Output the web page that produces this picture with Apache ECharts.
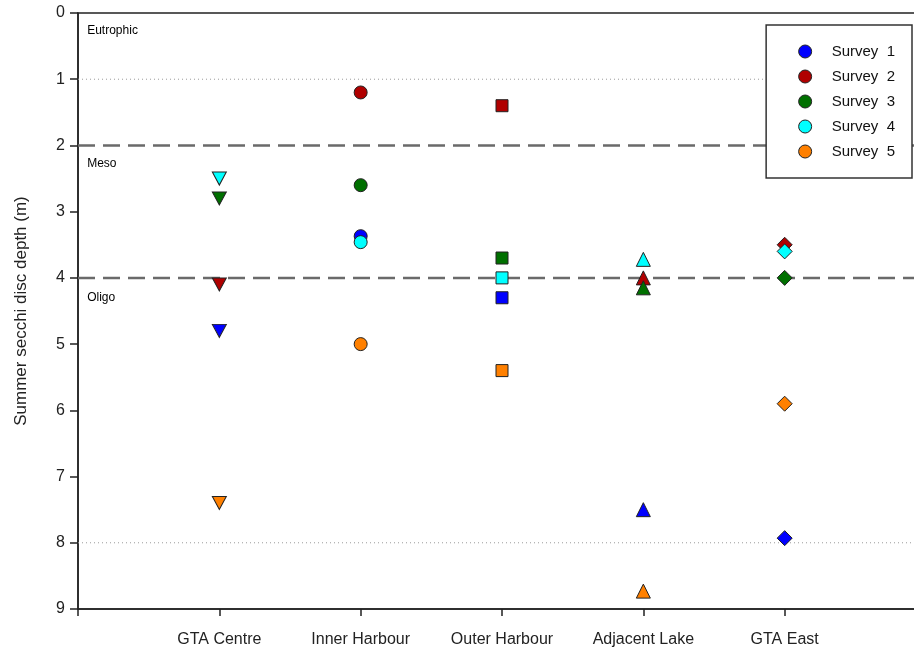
<!DOCTYPE html>
<html>
<head>
<meta charset="utf-8">
<script src="https://cdn.jsdelivr.net/npm/echarts@6/dist/echarts.min.js"></script>
<style>
  html, body { margin: 0; padding: 0; background: #fff; }
  #chart { width: 914px; height: 651px; }
</style>
</head>
<body>
<div id="chart"></div>
<script>
// Sites along the x axis (placed at positions 1..5)
const sites = ['GTA Centre', 'Inner Harbour', 'Outer Harbour', 'Adjacent Lake', 'GTA East'];
// One marker shape per site
const siteSymbols = ['triangle-down', 'circle', 'rect', 'triangle', 'diamond'];

const surveyNames = ['Survey 1', 'Survey 2', 'Survey 3', 'Survey 4', 'Survey 5'];
const surveyColors = ['#0000ff', '#b00000', '#007000', '#00ffff', '#ff8000'];

// Summer secchi disc depth (m), per survey, in site order
const survey1 = [4.8, 3.37, 4.3, 7.5, 7.93];
const survey2 = [4.1, 1.2, 1.4, 4.0, 3.5];
const survey3 = [2.8, 2.6, 3.7, 4.15, 4.0];
const survey4 = [2.5, 3.46, 4.0, 3.72, 3.6];
const survey5 = [7.4, 5.0, 5.4, 8.73, 5.9];
const surveyValues = [survey1, survey2, survey3, survey4, survey5];

const yTicks = [0, 1, 2, 3, 4, 5, 6, 7, 8, 9];

// Trophic boundaries and zone labels
const dottedLines = [1, 8];
const dashedLines = [2, 4];
const zoneNames = ['Eutrophic', 'Meso', 'Oligo'];
const zoneLabelDepths = [0.26, 2.27, 4.3];

const symbolFor = (s) => s === 'triangle-down' ? 'path://M0,0 L10,0 L5,9 Z' :
                          s === 'rect' ? 'rect' : s;
const sizeFor = (s) => s === 'diamond' ? 15 : (s === 'rect' ? 12 : (s === 'circle' ? 13 : 14));

const series = surveyNames.map((name, k) => ({
  name: name,
  type: 'scatter',
  z: 3 + k,
  itemStyle: { color: surveyColors[k], borderColor: '#222', borderWidth: 1, opacity: 1 },
  emphasis: { disabled: true },
  data: surveyValues[k].map((v, i) => ({
    value: [i + 1, v],
    symbol: symbolFor(siteSymbols[i]),
    symbolSize: siteSymbols[i] === 'triangle-down' ? [14, 13] : sizeFor(siteSymbols[i])
  }))
}));

// Horizontal trophic boundary lines spanning the full x range
const boundaryLine = (depth, style, tag) => ({
  name: tag + depth,
  type: 'line',
  silent: true,
  symbol: 'none',
  z: 1,
  emphasis: { disabled: true },
  lineStyle: style,
  data: [[0, depth], [6, depth]]
});
dottedLines.forEach(d => series.push(boundaryLine(d, { color: '#9a9a9a', width: 1, type: [1, 3] }, 'dotted-')));
dashedLines.forEach(d => series.push(boundaryLine(d, { color: '#6a6a6a', width: 2.5, type: [17, 8] }, 'dashed-')));

// Zone labels, anchored at the left edge of the plot
series.push({
  name: 'zones',
  type: 'scatter',
  silent: true,
  symbolSize: 0,
  z: 2,
  itemStyle: { opacity: 1 },
  data: zoneNames.map((n, i) => ({ value: [0.065, zoneLabelDepths[i]], name: n })),
  label: {
    show: true,
    position: 'right',
    distance: 0,
    formatter: (p) => p.name,
    fontFamily: 'Liberation Sans, Arial, sans-serif',
    fontSize: 12,
    color: '#000'
  }
});

const chart = echarts.init(document.getElementById('chart'), null, { renderer: 'canvas' });
chart.setOption({
  animation: false,
  backgroundColor: '#ffffff',
  textStyle: { fontFamily: 'Liberation Sans, Arial, sans-serif' },
  grid: {
    left: 78, top: 13, bottom: 42, width: 848,
    outerBoundsMode: 'none',
    containLabel: false,
    show: true, borderColor: '#222', borderWidth: 1.5, backgroundColor: 'transparent'
  },
  xAxis: {
    type: 'value',
    min: 0, max: 6, interval: 1,
    splitLine: { show: false },
    axisLine: { onZero: false, lineStyle: { color: '#222', width: 1.5 } },
    axisTick: { length: 7, lineStyle: { color: '#222', width: 1.5 } },
    axisLabel: {
      margin: 23,
      fontSize: 16,
      color: '#222',
      formatter: (v) => (v >= 1 && v <= sites.length) ? sites[v - 1] : ''
    }
  },
  yAxis: {
    type: 'value',
    inverse: true,
    min: yTicks[0], max: yTicks[yTicks.length - 1], interval: 1,
    name: 'Summer secchi disc depth (m)',
    nameLocation: 'middle',
    nameGap: 48,
    nameTextStyle: { fontSize: 17, color: '#222' },
    splitLine: { show: false },
    axisLine: { lineStyle: { color: '#222', width: 1.5 } },
    axisTick: { length: 8, lineStyle: { color: '#222', width: 1.5 } },
    axisLabel: { margin: 13, fontSize: 16, color: '#222' }
  },
  legend: {
    data: surveyNames.map(n => ({ name: n, icon: 'circle' })),
    orient: 'vertical',
    right: 2,
    top: 25,
    zlevel: 1,
    z: 20,
    itemWidth: 13,
    itemHeight: 13,
    itemGap: 10,
    padding: [19, 17, 19, 32],
    borderColor: '#333',
    borderWidth: 1.5,
    backgroundColor: '#fff',
    itemStyle: { borderColor: '#222', borderWidth: 1, opacity: 1 },
    formatter: (name) => name.replace(' ', '  '),
    textStyle: { fontSize: 15, color: '#111', padding: [0, 0, 0, 15] }
  },
  series: series
});
</script>
</body>
</html>
